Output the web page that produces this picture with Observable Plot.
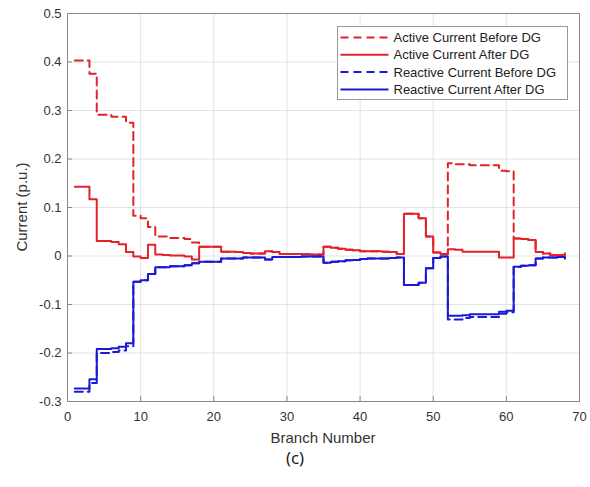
<!DOCTYPE html>
<html><head><meta charset="utf-8">
<script src="https://cdn.jsdelivr.net/npm/d3@7"></script>
<script src="https://cdn.jsdelivr.net/npm/@observablehq/plot@0.6"></script>
<style>
body{margin:0;background:#fff;font-family:"Liberation Sans",Arial,sans-serif;}
#wrap{width:590px;height:445px;}
#cap{width:590px;text-align:center;font-family:"Open Sans",sans-serif;font-size:17px;height:42px;line-height:26px;color:#111;}
</style></head><body><div id="wrap"></div><div id="cap">(c)</div>
<script>
const branches = [1,2,3,4,5,6,7,8,9,10,11,12,13,14,15,16,17,18,19,20,21,22,23,24,25,26,27,28,29,30,31,32,33,34,35,36,37,38,39,40,41,42,43,44,45,46,47,48,49,50,51,52,53,54,55,56,57,58,59,60,61,62,63,64,65,66,67,68];
const activeBefore = [0.403,0.403,0.376,0.291,0.291,0.287,0.287,0.275,0.083,0.078,0.060,0.040,0.040,0.037,0.037,0.035,0.028,0.019,0.019,0.019,0.009,0.009,0.008,0.006,0.005,0.005,0.010,0.008,0.004,0.004,0.004,0.004,0.003,0.003,0.019,0.017,0.015,0.013,0.012,0.010,0.010,0.010,0.009,0.008,0.004,0.087,0.087,0.078,0.040,0.007,0.004,0.191,0.189,0.189,0.187,0.187,0.187,0.187,0.176,0.175,0.036,0.035,0.033,0.008,0.005,0.002,0.002,0.005];
const activeAfter = [0.143,0.143,0.117,0.031,0.031,0.029,0.024,0.008,-0.001,-0.004,0.023,0.003,0.002,0.001,0.001,-0.001,-0.007,0.019,0.019,0.019,0.009,0.009,0.008,0.006,0.005,0.005,0.010,0.008,0.004,0.004,0.004,0.004,0.003,0.003,0.019,0.017,0.015,0.013,0.012,0.010,0.010,0.010,0.009,0.008,0.004,0.087,0.087,0.078,0.040,0.007,0.004,0.014,0.013,0.009,0.009,0.009,0.009,0.009,-0.003,-0.003,0.036,0.035,0.033,0.008,0.005,0.002,0.002,0.005];
const reactiveBefore = [-0.280,-0.280,-0.262,-0.200,-0.200,-0.198,-0.195,-0.186,-0.053,-0.050,-0.037,-0.023,-0.023,-0.021,-0.021,-0.019,-0.015,-0.012,-0.012,-0.012,-0.005,-0.005,-0.005,-0.003,-0.003,-0.003,-0.007,-0.002,-0.002,-0.002,-0.002,-0.001,-0.001,-0.001,-0.014,-0.012,-0.011,-0.009,-0.008,-0.006,-0.005,-0.005,-0.005,-0.004,-0.003,-0.060,-0.060,-0.055,-0.025,-0.004,-0.001,-0.131,-0.131,-0.128,-0.126,-0.126,-0.126,-0.126,-0.119,-0.116,-0.022,-0.020,-0.019,-0.005,-0.003,-0.003,-0.002,-0.005];
const reactiveAfter = [-0.273,-0.273,-0.254,-0.192,-0.192,-0.190,-0.187,-0.180,-0.053,-0.050,-0.037,-0.023,-0.023,-0.021,-0.021,-0.019,-0.015,-0.012,-0.012,-0.012,-0.005,-0.005,-0.005,-0.003,-0.003,-0.003,-0.007,-0.002,-0.002,-0.002,-0.002,-0.001,-0.001,-0.001,-0.014,-0.012,-0.011,-0.009,-0.008,-0.006,-0.005,-0.005,-0.005,-0.004,-0.003,-0.060,-0.060,-0.055,-0.025,-0.004,-0.001,-0.123,-0.123,-0.122,-0.120,-0.120,-0.120,-0.120,-0.115,-0.113,-0.022,-0.020,-0.019,-0.005,-0.003,-0.003,-0.002,-0.005];
const seriesNames = ["Active Current Before DG","Active Current After DG","Reactive Current Before DG","Reactive Current After DG"];
const xTicks = [0,10,20,30,40,50,60,70];
const yTicks = [-0.3,-0.2,-0.1,0,0.1,0.2,0.3,0.4,0.5];
const xLabel = "Branch Number";
const yLabel = "Current (p.u.)";

const RED = "#e3222a", BLUE = "#1a1ad6";
const styles = [
  {color: RED, dash: "8,5"},
  {color: RED, dash: null},
  {color: BLUE, dash: "8,5"},
  {color: BLUE, dash: null}
];
const valuesList = [activeBefore, activeAfter, reactiveBefore, reactiveAfter];
const tables = valuesList.map((vals, s) => branches.map((b, i) => ({branch: b, value: vals[i], series: seriesNames[s]})));

const fmtY = d => Math.abs(d) < 1e-9 ? "0" : String(+d.toFixed(1));

const W = 590, H = 445, ML = 67, MR = 11, MT = 13, MB = 44;
const chart = Plot.plot({
  width: W, height: H,
  marginLeft: ML, marginRight: MR, marginTop: MT, marginBottom: MB,
  style: {fontFamily: "'Liberation Sans', Arial, sans-serif", fontSize: "13px", color: "#333", background: "#fff"},
  x: {domain: [0, 70]},
  y: {domain: [-0.3, 0.5]},
  marks: [
    Plot.gridX(xTicks, {stroke: "#e3e3e3", strokeOpacity: 1}),
    Plot.gridY(yTicks, {stroke: "#e3e3e3", strokeOpacity: 1}),
    ...tables.map((t, s) => Plot.line(t, {
      x: "branch", y: "value", curve: "step-after",
      stroke: styles[s].color, strokeWidth: 2,
      strokeDasharray: styles[s].dash
    })),
    Plot.frame({stroke: "#888", strokeWidth: 1}),
    Plot.axisX(xTicks, {label: null, tickSize: -5, tickPadding: 15, stroke: "#888", fill: "#333"}),
    Plot.axisY(yTicks, {label: null, tickSize: -5, tickPadding: 11, tickFormat: fmtY, stroke: "#888", fill: "#333"})
  ]
});
document.getElementById("wrap").appendChild(chart);

const svg = d3.select(chart);
// axis labels
svg.append("text").attr("x", ML + (W - ML - MR) / 2).attr("y", 443)
  .attr("text-anchor", "middle").attr("font-size", 15).attr("fill", "#333").text(xLabel);
svg.append("text").attr("transform", `translate(27,${MT + (H - MT - MB) / 2}) rotate(-90)`)
  .attr("text-anchor", "middle").attr("font-size", 15).attr("fill", "#333").text(yLabel);

// legend
const lg = svg.append("g").attr("text-anchor", "start");
const lx = 337.5, ly = 26.5, lw = 230, lh = 73;
lg.append("rect").attr("x", lx).attr("y", ly).attr("width", lw).attr("height", lh)
  .attr("fill", "#fff").attr("stroke", "#999");
seriesNames.forEach((name, i) => {
  const yy = ly + 11 + i * 17.3;
  lg.append("line").attr("x1", lx + 3).attr("x2", lx + 51).attr("y1", yy).attr("y2", yy)
    .attr("stroke", styles[i].color).attr("stroke-width", 2)
    .attr("stroke-dasharray", styles[i].dash);
  lg.append("text").attr("x", lx + 56).attr("y", yy).attr("dy", "0.35em")
    .attr("text-anchor", "start")
    .attr("font-size", 13).attr("fill", "#222").text(name);
});
</script></body></html>
